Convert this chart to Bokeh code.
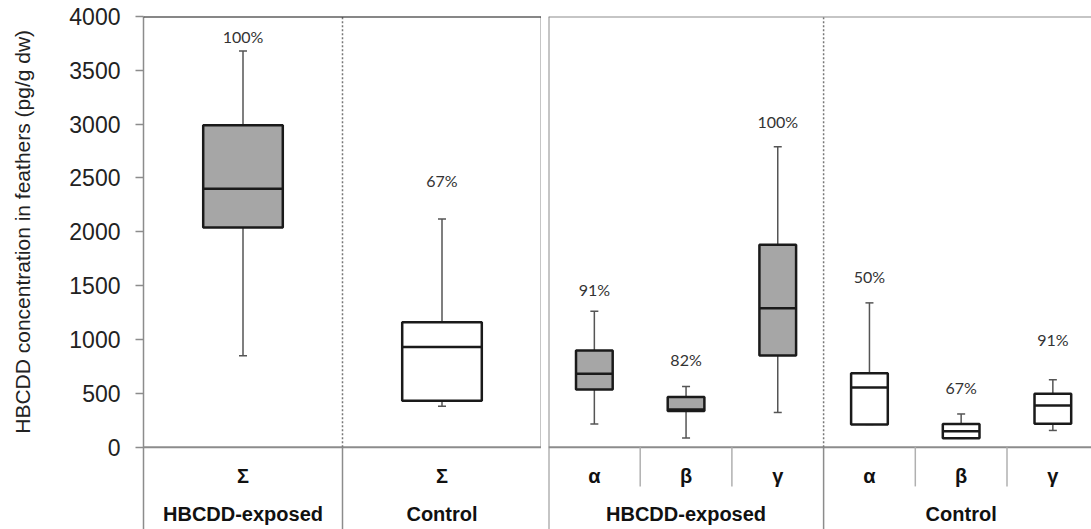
import math
from bokeh.plotting import figure
from bokeh.layouts import row
from bokeh.models import FixedTicker, Span, ColumnDataSource
from bokeh.core.properties import value
from bokeh.embed import file_html
from bokeh.resources import INLINE

# ---------------- data ----------------
# Left panel: sum of HBCDD
left_groups = ["HBCDD-exposed", "Control"]
left_cats = ["Σ", "Σ"]
left_max = [3680, 2120]
left_q3 = [2990, 1160]
left_med = [2400, 930]
left_q1 = [2040, 430]
left_min = [850, 380]
left_pct = ["100%", "67%"]
left_pct_y = [3817, 2475]
left_fill = ["#a6a6a6", "#ffffff"]

# Right panel: isomers
right_groups = ["HBCDD-exposed", "Control"]
right_cats = ["α", "β", "γ", "α", "β", "γ"]
right_max = [1262, 563, 2791, 1340, 308, 626]
right_q3 = [897, 465, 1881, 687, 215, 496]
right_med = [681, 350, 1290, 554, 147, 387]
right_q1 = [535, 335, 851, 211, 82, 217]
right_min = [214, 84, 322, 211, 82, 155]
right_pct = ["91%", "82%", "100%", "50%", "67%", "91%"]
right_pct_y = [1464, 815, 3026, 1584, 554, 997]
right_fill = ["#a6a6a6"] * 3 + ["#ffffff"] * 3

y_ticks = [0, 500, 1000, 1500, 2000, 2500, 3000, 3500, 4000]
y_title = "HBCDD concentration in feathers (pg/g dw)"

# ---------------- style ----------------
Y_TOP = 4000
Y_BOT = -765
CAT_Y = -270
GROUP_Y = -625
INNER_SEP_Y = -365
GRAY = "#8c8c8c"
BOX_LINE = "#1a1a1a"
WHISK = "#555555"
BOX_W = 0.4
H = 529
STRIP_W = 40


def draw_boxes(p, xs, mx, q3, med, q1, mn, fills, pct, pct_y):
    src = ColumnDataSource(dict(x=xs, mx=mx, q3=q3, med=med, q1=q1, mn=mn,
                                fill=fills, pct=pct, pct_y=pct_y,
                                xl=[x - BOX_W / 2 for x in xs],
                                xr=[x + BOX_W / 2 for x in xs]))
    p.segment(x0="x", y0="q3", x1="x", y1="mx", source=src, line_color=WHISK, line_width=1.5)
    p.segment(x0="x", y0="mn", x1="x", y1="q1", source=src, line_color=WHISK, line_width=1.5)
    p.scatter(x="x", y="mx", source=src, marker="dash", size=8, line_color=WHISK, line_width=1.5)
    p.scatter(x="x", y="mn", source=src, marker="dash", size=8, line_color=WHISK, line_width=1.5)
    p.vbar(x="x", width=BOX_W, top="q3", bottom="q1", source=src,
           fill_color="fill", line_color=BOX_LINE, line_width=2.5)
    p.segment(x0="xl", y0="med", x1="xr", y1="med", source=src, line_color=BOX_LINE, line_width=2.5)
    p.text(x="x", y="pct_y", text="pct", source=src, text_align="center", text_baseline="middle",
           text_font=value("Lato"), text_font_size="16px", text_color="#333333")


def draw_cat_labels(p, xs, cats, gxs, groups):
    p.text(x=xs, y=[CAT_Y] * len(xs), text=cats, text_align="center", text_baseline="middle",
           text_font=value("Liberation Sans"), text_font_style="bold", text_font_size="20px",
           text_color="#111111")
    p.text(x=gxs, y=[GROUP_Y] * len(gxs), text=groups, text_align="center", text_baseline="middle",
           text_font=value("Liberation Sans"), text_font_style="bold", text_font_size="20px",
           text_color="#111111")


# ---------------- y-title strip ----------------
p0 = figure(width=STRIP_W, height=H, x_range=(0, STRIP_W), y_range=(Y_BOT, Y_TOP),
            x_axis_location=None, y_axis_location=None,
            output_backend="svg", toolbar_location=None,
            min_border_left=0, min_border_right=0, min_border_top=16, min_border_bottom=0)
p0.outline_line_color = None
p0.grid.grid_line_color = None
p0.text(x=[22], y=[2000], text=[y_title], angle=math.pi / 2,
        text_align="center", text_baseline="middle",
        text_font=value("Liberation Sans"), text_font_size="21px", text_color="#222222")

# ---------------- left figure ----------------
n_left = len(left_cats)
p1 = figure(width=541 - STRIP_W, height=H, x_range=(0, n_left), y_range=p0.y_range,
            x_axis_location=None, y_axis_location="left",
            output_backend="svg", toolbar_location=None,
            min_border_left=143 - STRIP_W, min_border_right=0, min_border_top=16, min_border_bottom=0)
p1.outline_line_color = None
p1.grid.grid_line_color = None
ax = p1.yaxis[0]
ax.ticker = FixedTicker(ticks=y_ticks)
ax.minor_tick_line_color = None
ax.major_tick_out = 8
ax.major_tick_in = 0
ax.major_tick_line_color = GRAY
ax.major_tick_line_width = 1.5
ax.axis_line_color = GRAY
ax.axis_line_width = 1.5
ax.major_label_standoff = 15
ax.major_label_text_font = "Liberation Sans"
ax.major_label_text_font_size = "23px"
ax.major_label_text_color = "#222222"

lx = [i + 0.5 for i in range(n_left)]
p1.add_layout(Span(location=Y_TOP, dimension="width", line_color="#111111", line_width=2))
p1.segment(x0=[0], y0=[0], x1=[n_left], y1=[0], line_color=GRAY, line_width=2)
p1.segment(x0=[n_left], y0=[0], x1=[n_left], y1=[Y_TOP], line_color=GRAY, line_width=2)
p1.segment(x0=[1], y0=[0], x1=[1], y1=[Y_TOP], line_color="#777777", line_width=1.5, line_dash="2 2")
p1.segment(x0=[1], y0=[Y_BOT], x1=[1], y1=[0], line_color=GRAY, line_width=1.5)

draw_boxes(p1, lx, left_max, left_q3, left_med, left_q1, left_min, left_fill, left_pct, left_pct_y)
draw_cat_labels(p1, lx, left_cats, lx, left_groups)

# ---------------- right figure ----------------
n_right = len(right_cats)
cat_px = 91.7
p2 = figure(width=550, height=H, x_range=(0, 543 / cat_px), y_range=p0.y_range,
            x_axis_location=None, y_axis_location=None,
            output_backend="svg", toolbar_location=None,
            min_border_left=7, min_border_right=0, min_border_top=16, min_border_bottom=0)
p2.outline_line_color = None
p2.grid.grid_line_color = None

rx = [i + 0.5 for i in range(n_right)]
p2.add_layout(Span(location=Y_TOP, dimension="width", line_color=GRAY, line_width=2))
p2.add_layout(Span(location=0, dimension="height", line_color=GRAY, line_width=2))
p2.segment(x0=[0], y0=[0], x1=[n_right], y1=[0], line_color=GRAY, line_width=2)
p2.segment(x0=[3], y0=[0], x1=[3], y1=[Y_TOP], line_color="#777777", line_width=1.5, line_dash="2 2")
p2.segment(x0=[3], y0=[Y_BOT], x1=[3], y1=[0], line_color=GRAY, line_width=1.5)
p2.segment(x0=[1, 2, 4, 5], y0=[INNER_SEP_Y] * 4, x1=[1, 2, 4, 5], y1=[0] * 4,
           line_color="#b0b0b0", line_width=1.5)

draw_boxes(p2, rx, right_max, right_q3, right_med, right_q1, right_min, right_fill, right_pct, right_pct_y)
draw_cat_labels(p2, rx, right_cats, [1.5, 4.5], right_groups)

layout = row(p0, p1, p2)
open("out.html", "w").write(file_html(layout, INLINE))
